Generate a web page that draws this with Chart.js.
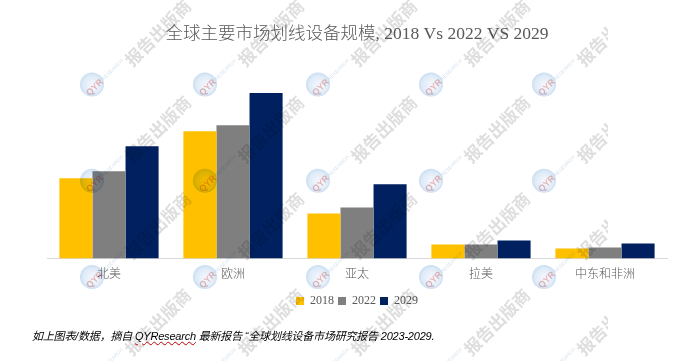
<!DOCTYPE html>
<html lang="zh">
<head>
<meta charset="utf-8">
<title>全球主要市场划线设备规模</title>
<script src="https://cdn.jsdelivr.net/npm/chart.js@4"></script>
<style>
    html, body { margin: 0; padding: 0; background: #fff; }
    #wrap { position: relative; width: 690px; height: 361px; overflow: hidden; }
    #note {
        position: absolute; left: 32px; top: 327px; white-space: nowrap; letter-spacing: -0.2px;
        font: italic 11px "Liberation Sans", "Noto Sans CJK SC", sans-serif; color: #000;
    }
    #note u { text-decoration: underline wavy #c00000 1px; }
</style>
</head>
<body>
<div id="wrap">
    <canvas id="chart" width="690" height="361"></canvas>
    <div id="note">如上图表/数据，摘自 <u>QYResearch</u> 最新报告 “全球划线设备市场研究报告 2023-2029.</div>
</div>
<script>
const categories = ['北美', '欧洲', '亚太', '拉美', '中东和非洲'];
const years = ['2018', '2022', '2029'];
const values2018 = [80, 127, 45, 14, 10];
const values2022 = [87, 133, 51, 14, 11];
const values2029 = [112, 165, 74, 18, 15];
const barColors = ['#ffc000', '#7f7f7f', '#002060'];

const textFont = '"Liberation Serif", "Noto Sans CJK SC", serif';

// Filigrane répété au-dessus du graphique
const watermark = {
    id: 'watermark',
    afterDraw(chart) {
        const ctx = chart.ctx;
        ctx.save();
        ctx.beginPath();
        ctx.rect(0, 0, 608, 361);
        ctx.clip();
        ctx.globalCompositeOperation = 'multiply';
        for (let col = 0; col < 5; col++) {
            for (let row = 0; row < 4; row++) {
                const x = 92 + col * 113;
                const y = 84.5 + row * 96.3;
                // logo
                const grad = ctx.createRadialGradient(x + 2, y + 2, 1, x, y, 12);
                grad.addColorStop(0, '#f6f9fd');
                grad.addColorStop(0.75, '#dfebf7');
                grad.addColorStop(1, '#c9def2');
                ctx.fillStyle = grad;
                ctx.beginPath();
                ctx.arc(x, y, 12, 0, Math.PI * 2);
                ctx.fill();
                ctx.save();
                ctx.translate(x + 3, y + 3);
                ctx.rotate(-Math.PI / 4);
                ctx.fillStyle = '#f0bcbc';
                ctx.font = 'bold 9px "Liberation Sans"';
                ctx.textAlign = 'center';
                ctx.textBaseline = 'middle';
                ctx.fillText('QYR', 0, 0);
                ctx.fillStyle = '#d5e3f0';
                ctx.font = '5px "Liberation Sans"';
                ctx.textAlign = 'left';
                ctx.fillText('RESEARCH', 11, 0);
                ctx.restore();
                // texte
                ctx.save();
                ctx.translate(x + 66, y - 51.5);
                ctx.rotate(-Math.PI / 4);
                ctx.fillStyle = '#dedede';
                ctx.font = 'bold 17px "Noto Sans CJK SC"';
                ctx.textAlign = 'center';
                ctx.textBaseline = 'middle';
                ctx.fillText('报告出版商', 0, 0);
                ctx.restore();
            }
        }
        ctx.restore();
    }
};

new Chart(document.getElementById('chart'), {
    type: 'bar',
    data: {
        labels: categories,
        datasets: [
            { label: years[0], data: values2018, backgroundColor: barColors[0] },
            { label: years[1], data: values2022, backgroundColor: barColors[1] },
            { label: years[2], data: values2029, backgroundColor: barColors[2] }
        ]
    },
    options: {
        responsive: false,
        animation: false,
        categoryPercentage: 0.8,
        barPercentage: 1,
        layout: {
            padding: { left: 47, right: 23, top: 24, bottom: 44 }
        },
        plugins: {
            title: {
                display: true,
                text: '全球主要市场划线设备规模, 2018 Vs 2022 VS 2029',
                color: '#595959',
                font: { family: textFont, size: 17.5, weight: 300 },
                padding: { top: 0, bottom: 43 }
            },
            legend: {
                position: 'bottom',
                labels: {
                    color: '#595959',
                    font: { family: textFont, size: 12 },
                    boxWidth: 8,
                    boxHeight: 8,
                    padding: 4
                }
            },
            tooltip: { enabled: false }
        },
        scales: {
            x: {
                grid: { display: false, drawTicks: false },
                border: { color: '#d9d9d9' },
                ticks: {
                    color: '#595959',
                    padding: 9,
                    maxRotation: 0,
                    font: { family: textFont, size: 12, weight: 300 }
                }
            },
            y: {
                display: false,
                min: 0,
                max: 170
            }
        }
    },
    plugins: [watermark]
});
</script>
</body>
</html>
